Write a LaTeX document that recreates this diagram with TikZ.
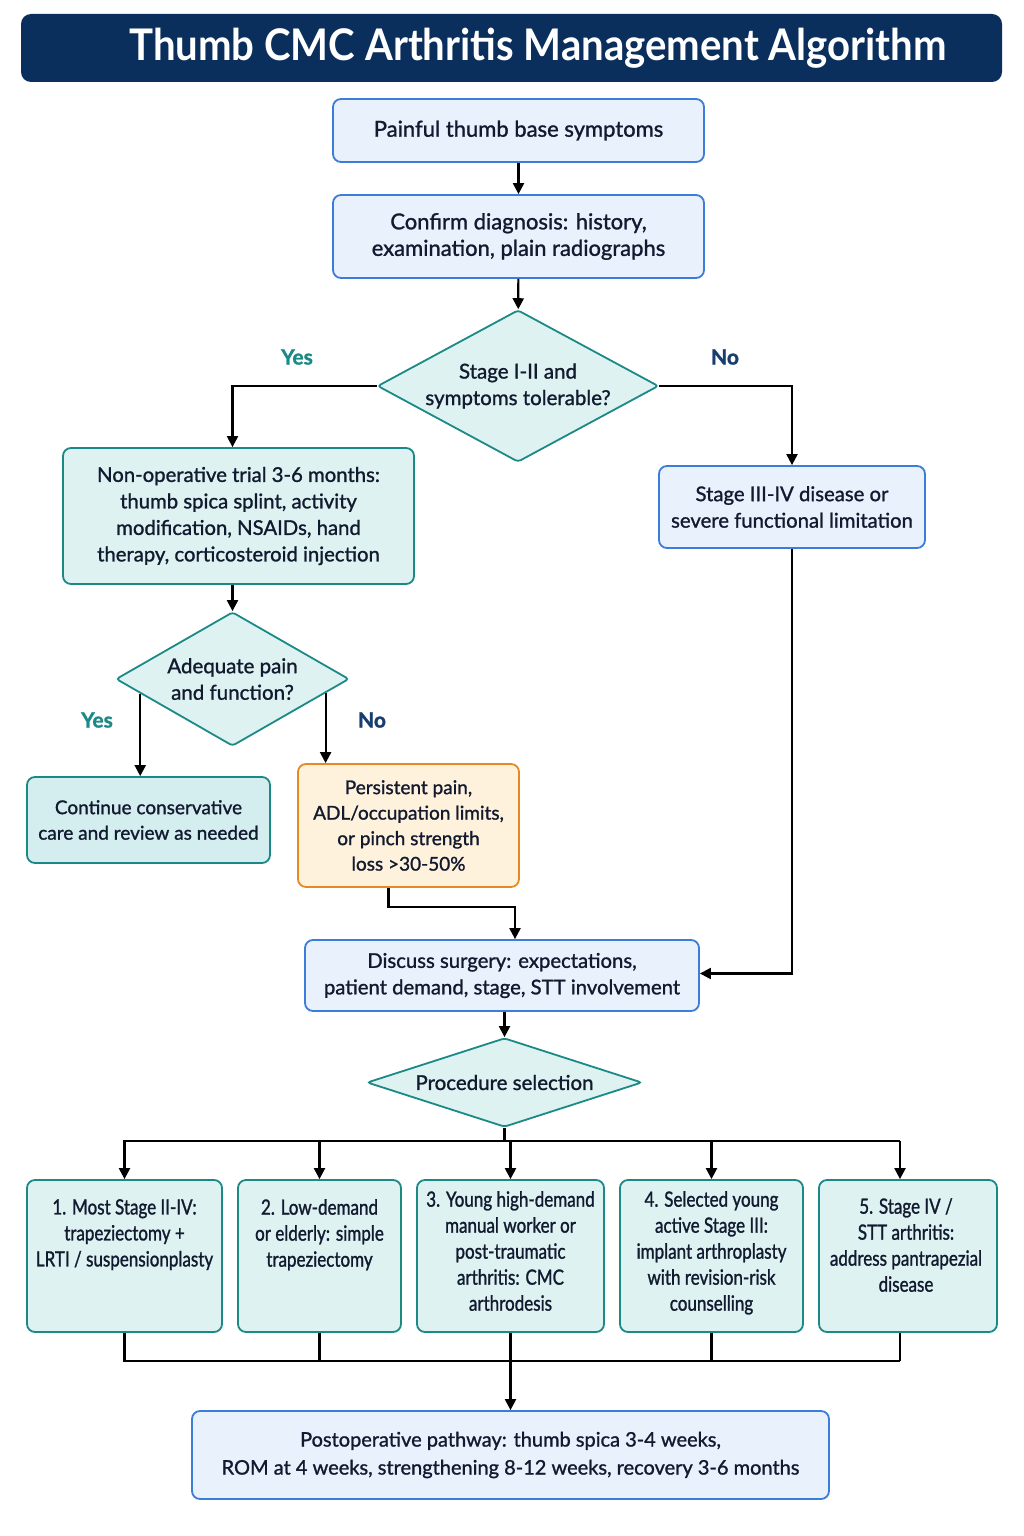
\documentclass[tikz,border=0pt]{standalone}
\usepackage{fontspec}
\setmainfont{Lato}[FakeBold=1.2]
\newfontfamily\condfont{Lato}[FakeStretch=0.81,FakeBold=1.2]
\newfontfamily\titlefont{Lato Bold}[FakeStretch=0.92]
\usetikzlibrary{arrows.meta,calc,shapes.geometric}
\definecolor{navy}{RGB}{10,47,92}
\definecolor{bbord}{RGB}{59,125,216}
\definecolor{bfill}{RGB}{232,241,252}
\definecolor{tbord}{RGB}{27,138,135}
\definecolor{tfill}{RGB}{222,242,242}
\definecolor{tfill2}{RGB}{212,238,240}
\definecolor{obord}{RGB}{232,137,31}
\definecolor{ofill}{RGB}{254,242,220}
\definecolor{txt}{RGB}{18,26,48}
\definecolor{yescol}{RGB}{27,138,135}
\definecolor{nocol}{RGB}{23,62,110}
\begin{document}
\begin{tikzpicture}[x=1pt,y=-1pt,
  box/.style={draw, rounded corners=8pt, line width=1.8pt, align=center, inner sep=0pt, text=txt, font=\fontsize{20.3}{26.5}\selectfont},
  bluebox/.style={box, draw=bbord, fill=bfill},
  tealbox/.style={box, draw=tbord, fill=tfill},
  orbox/.style={box, draw=obord, fill=ofill},
  big/.style={font=\fontsize{22}{26.5}\selectfont},
  small/.style={font=\fontsize{19}{25.5}\selectfont},
  dia/.style={diamond, draw=tbord, fill=tfill, line width=1.8pt, inner sep=0pt, align=center, text=txt, rounded corners=3pt, font=\fontsize{20.5}{26.5}\selectfont},
  ptext/.style={align=center, text=txt, inner sep=0pt, anchor=north, font=\condfont\fontsize{21}{26}\selectfont},
  yeslab/.style={text=yescol, font=\fontsize{21}{24}\bfseries\selectfont},
  nolab/.style={text=nocol, font=\fontsize{21}{24}\bfseries\selectfont},
  ln/.style={line width=2.2pt, black},
  arr/.style={ln, -{Triangle[length=11pt,width=11pt]}}]
\useasboundingbox[fill=white] (0,0) rectangle (1024,1536);

% title
\node[fill=navy, rounded corners=10pt, minimum width=981pt, minimum height=68pt, inner sep=0pt] (T) at (511.5,48) {};
\node[text=white, font=\titlefont\fontsize{43.6}{46}\selectfont] (Tt) at (538,48) {Thumb CMC Arthritis Management Algorithm};

% nodes
\node[bluebox, big, minimum width=371pt, minimum height=63pt] (A) at (518.5,130.5) {Painful thumb base symptoms};
\node[bluebox, big, minimum width=371pt, minimum height=83pt] (B) at (518.5,236.5) {Confirm diagnosis: history,\\examination, plain radiographs};
\node[dia, minimum width=281pt, minimum height=152pt, aspect=1.85] (D1) at (518,386) {Stage I-II and\\symptoms tolerable?};
\node[yeslab] (Y1) at (297,357) {Yes};
\node[nolab] (N1) at (725,357) {No};
\node[tealbox, minimum width=351pt, minimum height=136pt] (C) at (238.5,516) {Non-operative trial 3-6 months:\\thumb spica splint, activity\\modification, NSAIDs, hand\\therapy, corticosteroid injection};
\node[bluebox, minimum width=266pt, minimum height=82pt] (E) at (792,507) {Stage III-IV disease or\\severe functional limitation};
\node[dia, minimum width=233pt, minimum height=134pt, aspect=1.74] (D2) at (232.5,679) {Adequate pain\\and function?};
\node[yeslab] (Y2) at (97,720) {Yes};
\node[nolab] (N2) at (372,720) {No};
\node[tealbox, small, fill=tfill2, minimum width=243pt, minimum height=86pt] (F) at (148.5,820) {Continue conservative\\care and review as needed};
\node[orbox, small, minimum width=221pt, minimum height=123pt] (G) at (408.5,825.5) {Persistent pain,\\ADL/occupation limits,\\or pinch strength\\loss >30-50\%};
\node[bluebox, minimum width=394pt, minimum height=71pt] (H) at (502,975.5) {Discuss surgery: expectations,\\patient demand, stage, STT involvement};
\node[dia, minimum width=275pt, minimum height=89pt, aspect=3.09] (D3) at (504.5,1082.5) {Procedure selection};

\node[tealbox, minimum width=195pt, minimum height=152pt] (P1) at (124.5,1256) {};
\node[tealbox, minimum width=163pt, minimum height=152pt] (P2) at (319.5,1256) {};
\node[tealbox, minimum width=187pt, minimum height=152pt] (P3) at (510.5,1256) {};
\node[tealbox, minimum width=183pt, minimum height=152pt] (P4) at (711.5,1256) {};
\node[tealbox, minimum width=178pt, minimum height=152pt] (P5) at (908,1256) {};
\node[ptext] (P1t) at (124.5,1199) {1. Most Stage II-IV:\\trapeziectomy +\\LRTI / suspensionplasty};
\node[ptext] (P2t) at (319.5,1199) {2. Low-demand\\or elderly: simple\\trapeziectomy};
\node[ptext] (P3t) at (510.5,1191) {3. Young high-demand\\manual worker or\\post-traumatic\\arthritis: CMC\\arthrodesis};
\node[ptext] (P4t) at (711.5,1191) {4. Selected young\\active Stage III:\\implant arthroplasty\\with revision-risk\\counselling};
\node[ptext] (P5t) at (906,1198) {5. Stage IV /\\STT arthritis:\\address pantrapezial\\disease};

\node[bluebox, font=\fontsize{20}{28}\selectfont, minimum width=637pt, minimum height=88pt] (I) at (510.5,1455) {Postoperative pathway: thumb spica 3-4 weeks,\\ROM at 4 weeks, strengthening 8-12 weeks, recovery 3-6 months};

% connectors
\draw[arr] (A) -- (B);
\draw[arr] (B) -- (D1);
\draw[arr] (D1.west) -| ($(C.north)+(-6,0)$);
\draw[arr] (D1.east) -| (E.north);
\draw[arr] (D2.north |- C.south) -- (D2.north);
\coordinate (d2l) at ($(D2.west)!0.214!(D2.south)$);
\coordinate (d2r) at ($(D2.east)!0.207!(D2.south)$);
\draw[arr] (d2l) -- (d2l |- F.north);
\draw[arr] (d2r) -- (d2r |- G.north);
\draw[arr] ($(G.south)+(-20,0)$) -- ++(0,19) -| ($(H.north)+(13,0)$);
\draw[arr] (E.south) |- ($(H.east)+(0,-2)$);
\draw[arr] (D3.north |- H.south) -- (D3.north);

\coordinate (bt) at (0,1141);
\coordinate (bb) at (0,1361);
\draw[ln] (D3.south) -- (D3.south |- bt);
\draw[ln] ($(P1.north |- bt)+(-1.1,0)$) -- ($(P5.north |- bt)+(-8,0)$);
\draw[arr] (P1.north |- bt) -- (P1.north);
\draw[arr] (P2.north |- bt) -- (P2.north);
\draw[arr] (P3.north |- bt) -- (P3.north);
\draw[arr] (P4.north |- bt) -- (P4.north);
\draw[arr] ($(P5.north |- bt)+(-8,0)$) -- ($(P5.north)+(-8,0)$);
\draw[ln] (P1.south) -- (P1.south |- bb);
\draw[ln] (P2.south) -- (P2.south |- bb);
\draw[ln] (P3.south) -- (P3.south |- bb);
\draw[ln] (P4.south) -- (P4.south |- bb);
\draw[ln] ($(P5.south)+(-8,0)$) -- ($(P5.south |- bb)+(-8,0)$);
\draw[ln] ($(P1.south |- bb)+(-1.1,0)$) -- ($(P5.south |- bb)+(-8,0)$);
\draw[arr] (I.north |- bb) -- (I.north);
\end{tikzpicture}
\end{document}
